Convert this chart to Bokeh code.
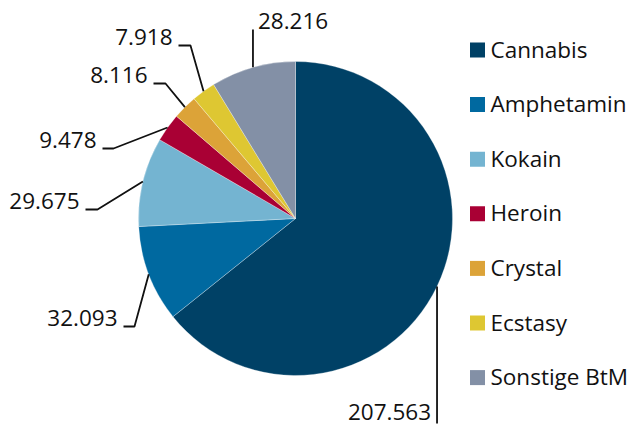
import math
from bokeh.plotting import figure
from bokeh.models import Range1d, ColumnDataSource
from bokeh.core.properties import value
from bokeh.embed import file_html
from bokeh.resources import INLINE

# ---- data ----
categories = ["Cannabis", "Amphetamin", "Kokain", "Heroin", "Crystal", "Ecstasy", "Sonstige BtM"]
counts = [207563, 32093, 29675, 9478, 8116, 7918, 28216]
count_labels = ["207.563", "32.093", "29.675", "9.478", "8.116", "7.918", "28.216"]
colors = ["#004166", "#0069a0", "#74b4d1", "#a90034", "#dca338", "#dec732", "#8390a6"]

# ---- layout (page pixels) ----
W, H = 632, 428
CX, CY, R = 295, 218, 157          # pie centre / radius in page px
FONT = value("Open Sans")
FS = "22.5px"
TXT = "#111111"
BASE_SHIFT = 8.5                   # renderer baseline correction
# label placement: ("v", end_y, side, text_y) vertical leader; ("e", ex, ey, tick) elbow leader
label_layout = [
    ("v", 423, "left", 420),
    ("e", 134, 326, 11),
    ("e", 97, 209, 12),
    ("e", 113, 148, 11),
    ("e", 165, 83, 12),
    ("e", 190, 45, 12),
    ("v", 29, "right", 29),
]
LEG_X, LEG_Y0, LEG_DY, LEG_SQ = 477, 49.5, 54.6, 15


def dx(X):
    return X


def dy(Y):
    return H - Y


p = figure(width=W, height=H, output_backend="svg", toolbar_location=None,
           x_range=Range1d(0, W), y_range=Range1d(0, H), min_border=0,
           x_axis_location=None, y_axis_location=None)
p.grid.visible = False
p.outline_line_color = None
p.background_fill_color = "white"
p.border_fill_color = "white"

total = float(sum(counts))
starts, ends, mids = [], [], []
acc = 0.0
for v in counts:
    a0 = acc / total * 360.0
    acc += v
    a1 = acc / total * 360.0
    starts.append(a0)
    ends.append(a1)
    mids.append((a0 + a1) / 2)

src = ColumnDataSource(dict(
    x=[dx(CX)] * len(counts), y=[dy(CY)] * len(counts),
    start=[math.radians(90 - a) for a in starts],
    end=[math.radians(90 - a) for a in ends],
    color=colors,
))
p.wedge(x="x", y="y", radius=R, radius_units="screen", start_angle="start", end_angle="end",
        direction="clock", fill_color="color", line_color="white", line_width=0.6, line_alpha=0.5,
        source=src)

# leader lines and labels
for i, lay in enumerate(label_layout):
    th = math.radians(mids[i])
    px = CX + R * math.sin(th)
    py = CY - R * math.cos(th)
    if lay[0] == "v":
        end_y, side, ty = lay[1], lay[2], lay[3]
        xs = [dx(px), dx(px)]
        ys = [dy(py), dy(end_y)]
        if side == "left":
            tx, align = px - 6, "right"
        else:
            tx, align = px + 5, "left"
    else:
        ex, ey, tick = lay[1], lay[2], lay[3]
        xs = [dx(px), dx(ex), dx(ex - tick)]
        ys = [dy(py), dy(ey), dy(ey)]
        tx, ty, align = ex - tick - 6, ey, "right"
    p.line(xs, ys, line_color="#111111", line_width=1.8)
    p.text(x=[dx(tx)], y=[dy(ty - BASE_SHIFT)], text=[count_labels[i]], text_font=FONT,
           text_font_size=FS, text_align=align, text_baseline="alphabetic", text_color=TXT)

# legend
for i, name in enumerate(categories):
    yc = LEG_Y0 + i * LEG_DY
    p.rect(x=[dx(LEG_X)], y=[dy(yc)], width=LEG_SQ, height=LEG_SQ, width_units="screen",
           height_units="screen", fill_color=colors[i], line_color=None)
    p.text(x=[dx(LEG_X + 13)], y=[dy(yc + 7.5 - BASE_SHIFT)], text=[name], text_font=FONT,
           text_font_size=FS, text_align="left", text_baseline="alphabetic", text_color=TXT)

open("out.html", "w").write(file_html(p, INLINE))
